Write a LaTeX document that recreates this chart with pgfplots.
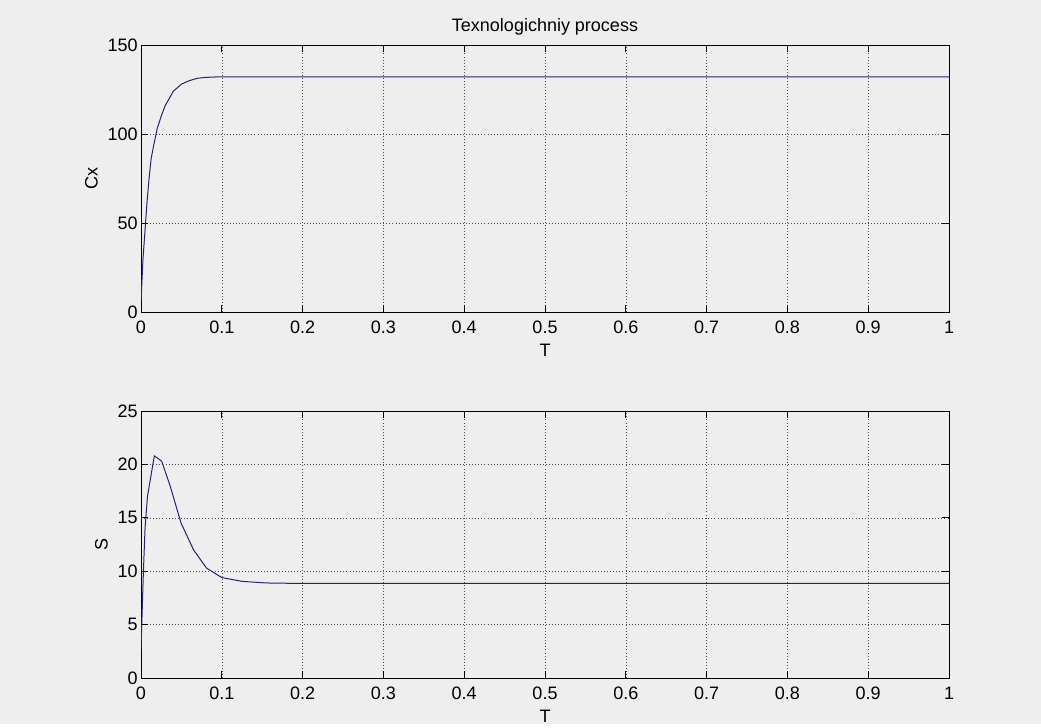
\documentclass[border=0pt]{standalone}
\usepackage{pgfplots}
\pgfplotsset{compat=1.18}
\usepackage{fontspec}
\setmainfont{Liberation Sans}
\definecolor{figbg}{RGB}{238,238,238}
\definecolor{curve}{RGB}{35,35,110}
\pgfplotsset{mstyle/.style={
  scale only axis, width=606pt, height=200.25pt,
  xmin=0, xmax=1,
  xtick={0,0.1,0.2,0.3,0.4,0.5,0.6,0.7,0.8,0.9,1},
  scaled ticks=false,
  tick align=inside, major tick length=5pt,
  axis background/.style={fill=figbg},
  grid=major,
  major grid style={dash pattern=on 0.7pt off 1.6pt, black!70},
  axis line style={black, line width=0.6pt},
  tick style={black, line width=0.6pt},
  tick label style={font=\fontsize{13.5}{15}\selectfont},
  label style={font=\fontsize{13.5}{15}\selectfont},
  xticklabel style={yshift=-3pt},
  yticklabel style={xshift=1pt},
  /pgf/number format/assume math mode=true,
  xlabel={T},
  xlabel style={yshift=-1.5pt},
}}
\begin{document}
\begin{tikzpicture}
\fill[figbg] (0,0) rectangle (780.75pt,543pt);
\begin{axis}[mstyle, at={(105.75pt,309pt)}, anchor=south west,
  ymin=0, ymax=150, ytick={0,50,100,150},
  ylabel={Cx}, ylabel style={yshift=0.5pt},
  title={Texnologichniy process},
  title style={font=\fontsize{13.5}{15}\selectfont, yshift=-2.5pt}]
\addplot[curve, line width=0.75pt] coordinates {
(0,6) (0.0025,30) (0.005,46) (0.0075,62) (0.01,75) (0.0125,86) (0.015,92)
(0.02,103) (0.025,110) (0.03,116) (0.035,120) (0.04,124) (0.05,128)
(0.06,130) (0.07,131.3) (0.08,131.8) (0.09,132) (0.1,132.1) (1,132.1)};
\end{axis}
\begin{axis}[mstyle, at={(105.75pt,34.5pt)}, anchor=south west,
  ymin=0, ymax=25, ytick={0,5,10,15,20,25},
  ylabel={S}, ylabel style={yshift=0.5pt}]
\addplot[curve, line width=0.75pt] coordinates {
(0,2.7) (0.003,10) (0.005,14) (0.008,17) (0.0165,20.8) (0.0256,20.3)
(0.036,18) (0.0496,14.5) (0.065,12) (0.081,10.3) (0.1,9.4) (0.125,9.05)
(0.154,8.9) (0.2,8.85) (1,8.85)};
\end{axis}
\end{tikzpicture}
\end{document}
